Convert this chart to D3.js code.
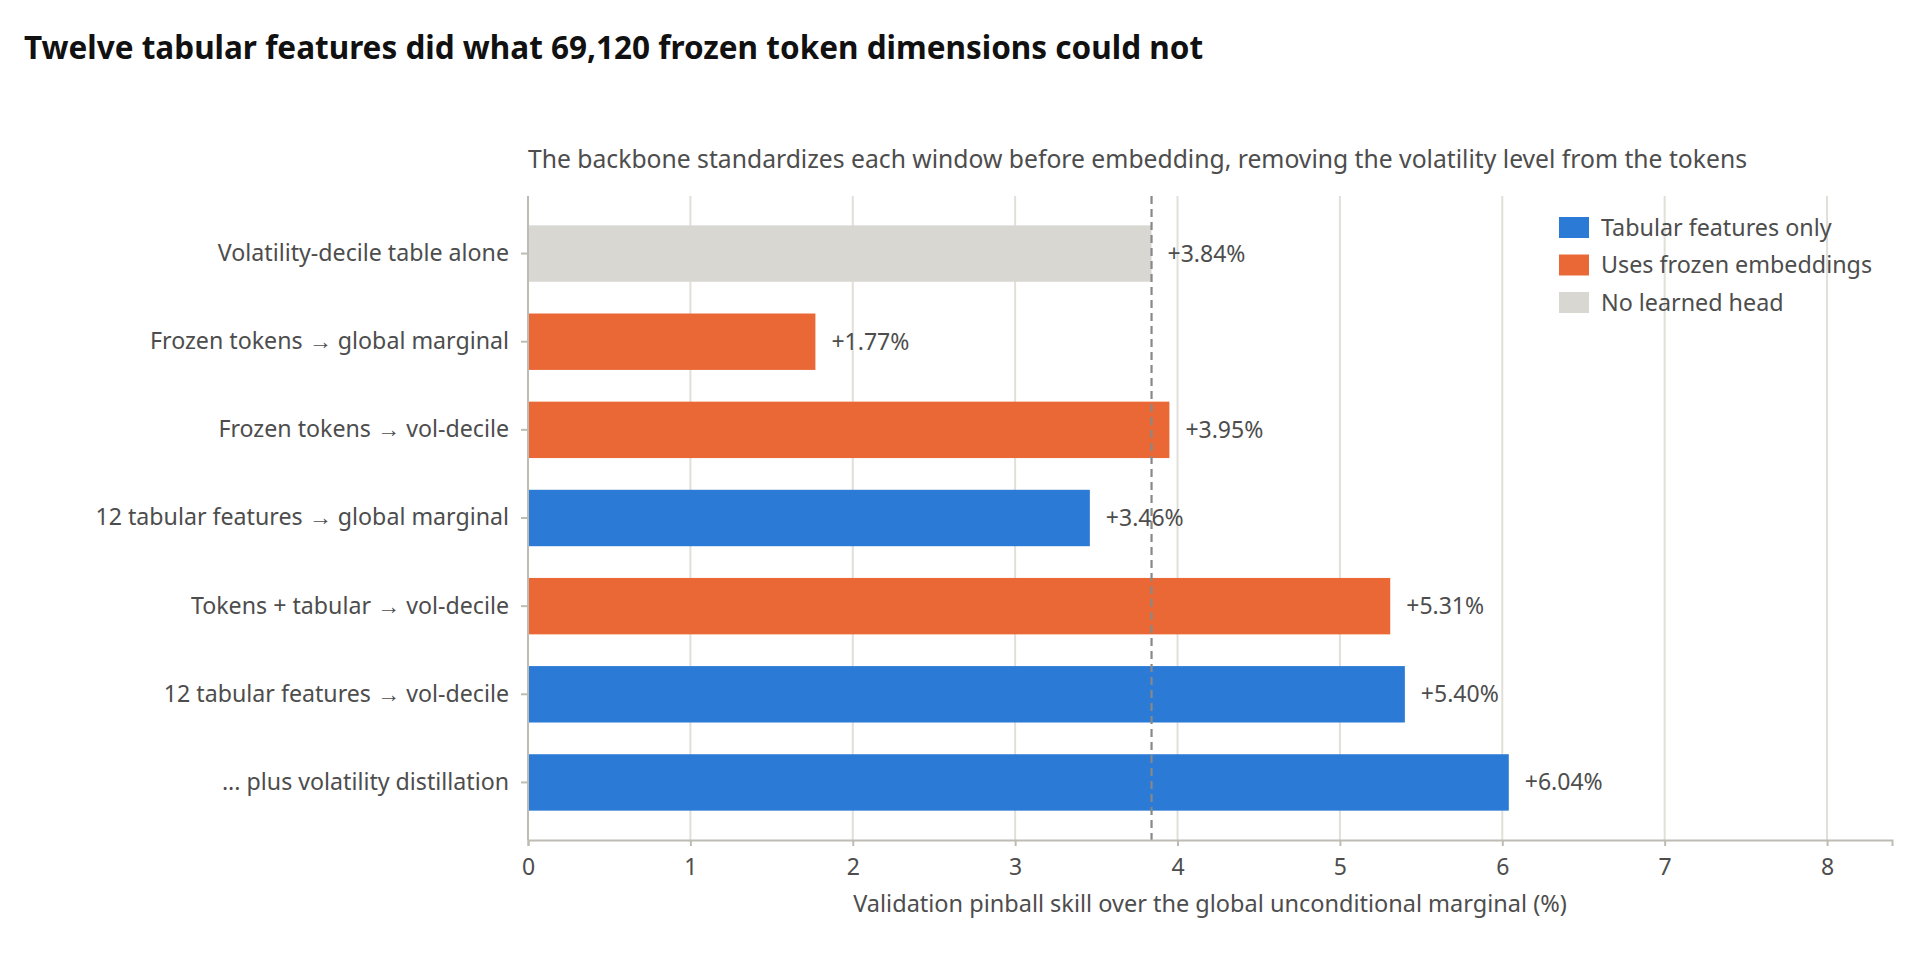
<!DOCTYPE html>
<html><head><meta charset="utf-8">
<script src="https://cdn.jsdelivr.net/npm/d3@7"></script>
<style>
html,body{margin:0;padding:0;background:#fff;}
svg{display:block;font-family:"Noto Sans","Open Sans",sans-serif;}
</style></head>
<body>
<svg id="chart" width="1920" height="960"></svg>
<script>
const categories = [
  "Volatility-decile table alone",
  "Frozen tokens \u2192 global marginal",
  "Frozen tokens \u2192 vol-decile",
  "12 tabular features \u2192 global marginal",
  "Tokens + tabular \u2192 vol-decile",
  "12 tabular features \u2192 vol-decile",
  "... plus volatility distillation"
];
const values = [3.84, 1.77, 3.95, 3.46, 5.31, 5.40, 6.04];
const groups = ["none", "frozen", "frozen", "tabular", "frozen", "tabular", "tabular"];
const legendKeys = ["tabular", "frozen", "none"];
const legendLabels = ["Tabular features only", "Uses frozen embeddings", "No learned head"];
const referenceValue = 3.84;
const xTicks = [0, 1, 2, 3, 4, 5, 6, 7, 8];
const xMax = 8.4;

const colorScale = d3.scaleOrdinal().domain(legendKeys).range(["#2a7ad6", "#ea6836", "#d8d7d2"]);
const textColor = "#4d4d4d";

const svg = d3.select("#chart");
const m = {left: 528, right: 1892, top: 196, bottom: 840};

const x = d3.scaleLinear().domain([0, xMax]).range([m.left, m.right]);
const y = d3.scaleBand().domain(categories).range([m.top, m.bottom]).paddingInner(0.36).paddingOuter(0.333);

// Title
svg.append("text").attr("x", 24).attr("y", 59)
  .attr("font-size", 31.5).attr("font-weight", 700).attr("fill", "#111")
  .text("Twelve tabular features did what 69,120 frozen token dimensions could not");

// Subtitle
svg.append("text").attr("x", m.left).attr("y", 168)
  .attr("font-size", 24.7).attr("fill", textColor)
  .text("The backbone standardizes each window before embedding, removing the volatility level from the tokens");

// Gridlines
svg.append("g").selectAll("line").data(xTicks.filter(d => d > 0)).join("line")
  .attr("x1", d => x(d)).attr("x2", d => x(d))
  .attr("y1", m.top).attr("y2", m.bottom)
  .attr("stroke", "#e0dfd8").attr("stroke-width", 2);

// Bars
svg.append("g").selectAll("rect").data(categories).join("rect")
  .attr("x", x(0)).attr("y", d => y(d))
  .attr("width", (d, i) => x(values[i]) - x(0))
  .attr("height", y.bandwidth())
  .attr("fill", (d, i) => colorScale(groups[i]));

// Value labels
svg.append("g").selectAll("text").data(categories).join("text")
  .attr("x", (d, i) => x(values[i]) + 16)
  .attr("y", d => y(d) + y.bandwidth() / 2)
  .attr("dy", "0.35em")
  .attr("font-size", 23).attr("fill", textColor)
  .text((d, i) => "+" + values[i].toFixed(2) + "%");

// Reference dashed line
svg.append("line")
  .attr("x1", x(referenceValue)).attr("x2", x(referenceValue))
  .attr("y1", m.top).attr("y2", m.bottom)
  .attr("stroke", "#888").attr("stroke-width", 2.2).attr("stroke-dasharray", "8,5");

// X axis
const xAxis = svg.append("g").attr("transform", `translate(0,${m.bottom})`)
  .call(d3.axisBottom(x).tickValues(xTicks).tickFormat(d3.format("d")).tickSize(6).tickPadding(13));
xAxis.attr("font-family", null);
xAxis.select(".domain").attr("stroke", "#bdbcb3").attr("stroke-width", 2);
xAxis.selectAll(".tick line").attr("stroke", "#bdbcb3").attr("stroke-width", 2);
xAxis.selectAll(".tick text").attr("font-size", 23).attr("fill", textColor);

// Y axis
const yAxis = svg.append("g").attr("transform", `translate(${m.left},0)`)
  .call(d3.axisLeft(y).tickSize(7).tickPadding(12));
yAxis.attr("font-family", null);
yAxis.select(".domain").attr("stroke", "#bdbcb3").attr("stroke-width", 2).attr("d", `M0,${m.top}V${m.bottom}`);
yAxis.selectAll(".tick line").attr("stroke", "#bdbcb3").attr("stroke-width", 2);
yAxis.selectAll(".tick text").attr("font-size", 23.2).attr("fill", textColor);

// X axis title
svg.append("text").attr("x", (m.left + m.right) / 2).attr("y", 912)
  .attr("text-anchor", "middle").attr("font-size", 23.5).attr("fill", textColor)
  .text("Validation pinball skill over the global unconditional marginal (%)");

// Legend
const lg = svg.append("g").attr("transform", "translate(1559,217)");
const items = lg.selectAll("g").data(legendKeys).join("g")
  .attr("transform", (d, i) => `translate(0,${i * 37.5})`);
items.append("rect").attr("width", 30).attr("height", 21).attr("fill", d => colorScale(d));
items.append("text").attr("x", 42).attr("y", 18.5)
  .attr("font-size", 23.3).attr("fill", textColor)
  .text((d, i) => legendLabels[i]);
</script>
</body></html>
